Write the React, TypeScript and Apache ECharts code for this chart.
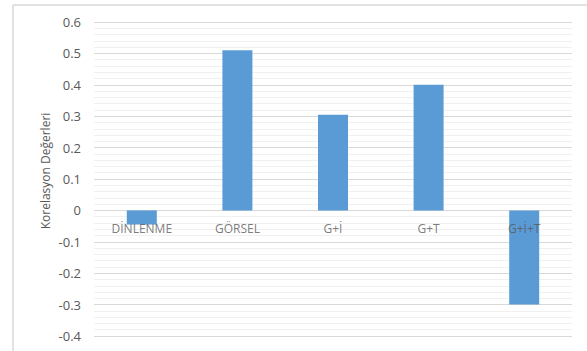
import React, { useEffect, useRef } from "react";
import * as echarts from "echarts";

const categories = ["DİNLENME", "GÖRSEL", "G+İ", "G+T", "G+İ+T"];
const values = [-0.045, 0.51, 0.305, 0.4, -0.3];
const yMin = -0.4;
const yMax = 0.6;
const yStep = 0.1;
const yName = "Korelasyon Değerleri";

export default function App() {
  const ref = useRef<HTMLDivElement>(null);
  useEffect(() => {
    if (!ref.current) return;
    const chart = echarts.init(ref.current, null, { renderer: "svg" });
    const font = "Open Sans, Noto Sans, sans-serif";
    chart.setOption({
      animation: false,
      backgroundColor: "#ffffff",
      grid: { left: 94, right: 15, top: 22, bottom: 15, outerBoundsMode: "none", containLabel: false },
      graphic: [
        { type: "line", shape: { x1: 13, y1: 5, x2: 587, y2: 5 }, style: { stroke: "#d9d9d9", lineWidth: 1.5 } },
        { type: "line", shape: { x1: 13, y1: 5, x2: 13, y2: 351 }, style: { stroke: "#d9d9d9", lineWidth: 1.5 } },
        {
          type: "text",
          x: 45,
          y: 171,
          rotation: Math.PI / 2,
          style: {
            text: yName,
            fill: "#595959",
            fontSize: 12,
            fontFamily: font,
            align: "center",
            verticalAlign: "middle",
          },
        },
      ],
      xAxis: {
        type: "category",
        data: categories,
        axisLine: { show: false },
        axisTick: { show: false },
        axisLabel: { show: false },
        splitLine: { show: false },
      },
      yAxis: {
        type: "value",
        min: yMin,
        max: yMax,
        interval: yStep,
        axisLine: { show: false },
        axisTick: { show: false },
        axisLabel: {
          color: "#595959",
          fontSize: 13,
          fontFamily: font,
          margin: 13,
          formatter: (v: number) => {
            const r = Math.round(v * 10) / 10;
            return r === 0 ? "0" : String(r);
          },
        },
        splitLine: { show: true, lineStyle: { color: "#d9d9d9", width: 1 } },
        minorTick: { show: false, splitNumber: 5 },
        minorSplitLine: { show: true, lineStyle: { color: "#f0f0f0", width: 1 } },
      },
      series: [
        {
          type: "bar",
          data: values,
          barWidth: 30,
          itemStyle: { color: "#5b9bd5" },
          z: 2,
        },
        {
          type: "scatter",
          data: categories.map((c) => [c, 0]),
          symbolSize: 0,
          z: 5,
          silent: true,
          label: {
            show: true,
            position: "bottom",
            distance: 12,
            formatter: (p: any) => p.name || p.value[0],
            color: "#595959",
            fontSize: 12,
            fontFamily: font,
          },
        },
      ],
    });
    return () => chart.dispose();
  }, []);
  return <div ref={ref} style={{ width: 587, height: 351, position: "absolute", left: 0, top: 0 }} />;
}
